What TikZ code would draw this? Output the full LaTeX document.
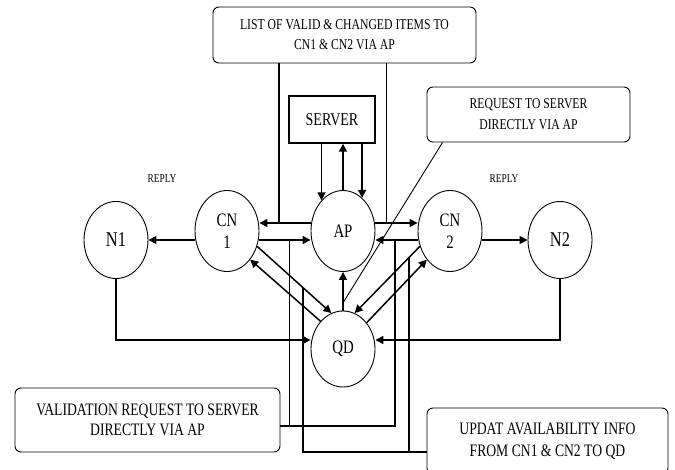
\documentclass[tikz,border=0pt]{standalone}
\usepackage{fontspec}
\setmainfont{Liberation Serif}[FakeStretch=0.78]
\usetikzlibrary{shapes.geometric,arrows.meta}

\begin{document}
\begin{tikzpicture}[x=1pt,y=-1pt,
  station/.style={draw,ellipse,line width=0.9pt,minimum width=64pt,minimum height=81pt,
    inner sep=0pt,align=center,font=\fontsize{19}{22}\selectfont},
  note/.style={draw,rounded corners=6pt,line width=0.9pt,align=center,inner sep=0pt},
  arr/.style={line width=1.5pt,-{Triangle[length=8pt,width=8pt]}},
  wire/.style={line width=1.5pt}]
  \useasboundingbox (0,0) rectangle (675,470);
  % boxes
  \node[note,minimum width=263pt,minimum height=56pt,font=\fontsize{15}{20}\selectfont]
    (list) at (344.5,35) {LIST OF VALID \& CHANGED ITEMS TO\\CN1 \& CN2 VIA AP};
  \node[draw,line width=1.5pt,minimum width=86pt,minimum height=47pt,font=\fontsize{18}{20}\selectfont]
    (server) at (332,119.5) {SERVER};
  \node[note,minimum width=203pt,minimum height=55pt,font=\fontsize{15}{21}\selectfont]
    (req) at (528.5,114.5) {REQUEST TO SERVER\\DIRECTLY VIA AP};
  \node[note,minimum width=265pt,minimum height=64pt,font=\fontsize{17.5}{20}\selectfont]
    (val) at (147.5,420) {VALIDATION REQUEST TO SERVER\\DIRECTLY VIA AP};
  \node[note,minimum width=241pt,minimum height=66pt,font=\fontsize{17.5}{22}\selectfont]
    (upd) at (547.5,441) {UPDAT AVAILABILITY INFO\\FROM CN1 \& CN2 TO QD};
  % stations
  \node[station,minimum height=77pt,font=\fontsize{21}{24}\selectfont] (N1) at (116,240) {N1};
  \node[station] (CN1) at (227,231) {CN\\1};
  \node[station] (AP) at (343,231) {AP};
  \node[station] (CN2) at (450,231) {CN\\2};
  \node[station,minimum height=77pt,font=\fontsize{21}{24}\selectfont] (N2) at (560,240) {N2};
  \node[station,minimum height=76pt] (QD) at (343,349) {QD};
  \node[font=\fontsize{12}{14}\selectfont] (rep1) at (162,179) {REPLY};
  \node[font=\fontsize{12}{14}\selectfont] (rep2) at (504,179) {REPLY};
  % replies and links to QD
  \draw[arr] (CN1.west |- N1.east) -- (N1.east);
  \draw[arr] (CN2.east |- N2.west) -- (N2.west);
  \draw[arr] (N1.south) |- ([yshift=9pt]QD.west);
  \draw[arr] (N2.south) |- ([yshift=9pt]QD.east);
  % CN <-> AP
  \draw[arr] ([yshift=8pt]AP.west) -- coordinate[pos=0.62] (j1) ([yshift=8pt]CN1.east);
  \draw[arr] ([yshift=-9pt]CN1.east) -- coordinate[pos=0.59] (v1) ([yshift=-9pt]AP.west);
  \draw[arr] ([yshift=8pt]AP.east) -- coordinate[pos=0.26] (j2) ([yshift=8pt]CN2.west);
  \draw[arr] ([yshift=-9pt]CN2.west) -- coordinate[pos=0.53] (v2) ([yshift=-9pt]AP.east);
  % CN <-> QD
  \draw[arr] (CN1.-27) -- coordinate[pos=0.62] (u1) (QD.108);
  \draw[arr] (QD.129) -- (CN1.-51);
  \draw[arr] (CN2.-153) -- coordinate[pos=0.17] (u2) (QD.72);
  \draw[arr] (QD.48) -- (CN2.-129);
  \draw[arr] (QD.north) -- coordinate[pos=0.2] (q1) (AP.south);
  % AP <-> SERVER
  \draw[arr] (server.south -| AP.125) -- (AP.125);
  \draw[arr] (AP.north) -- (AP.north |- server.south);
  \draw[arr] (server.south -| AP.60) -- (AP.60);
  % notes
  \draw[wire] (list.south -| j1) -- (j1);
  \draw[wire] (list.south -| j2) -- (j2);
  \draw[wire] ([yshift=-6pt]val.east) coordinate (v0) -| (v2);
  \draw[wire] (v1) -- (v1 |- v0);
  \draw[wire] ([yshift=-11pt]upd.west) coordinate (u0) -| (u1);
  \draw[wire] (u2) -- (u2 |- u0);
  \draw[line width=0.9pt] ([xshift=16pt]req.south west) -- (q1);
\end{tikzpicture}
\end{document}
